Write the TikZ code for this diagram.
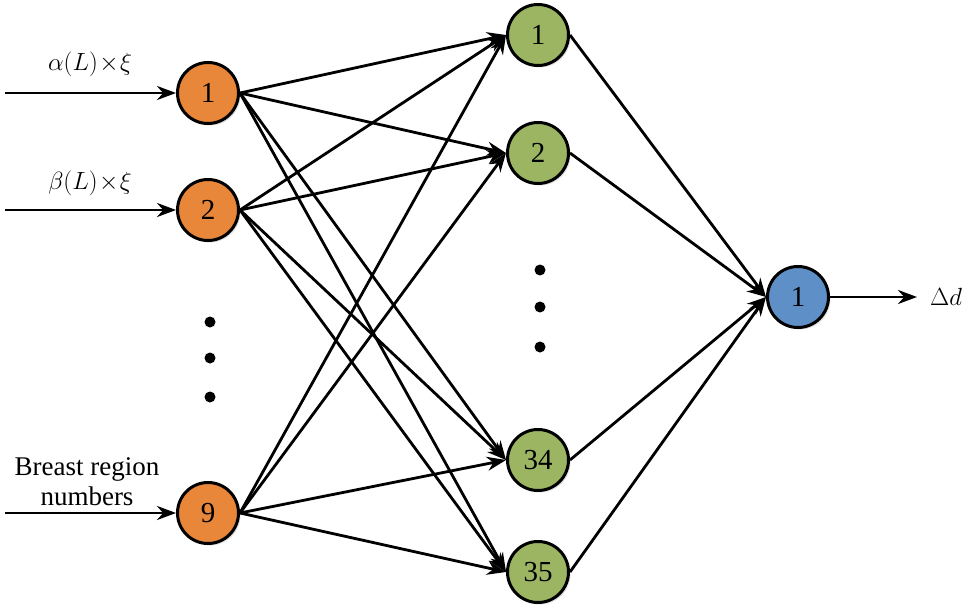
\documentclass[tikz,border=0pt]{standalone}
\usepackage{fontspec}
\setmainfont{Liberation Serif}
\usetikzlibrary{arrows.meta,shadows}
\begin{document}
\begin{tikzpicture}[x=1pt,y=-1pt,
  neuron/.style={circle,draw=black,line width=3pt,minimum size=61pt,inner sep=0pt,font=\fontsize{29}{31}\selectfont,
     drop shadow={opacity=0.25,shadow xshift=2pt,shadow yshift=-2pt}},
  conn/.style={line width=2.8pt,-{Stealth[length=19pt,width=14pt]}},
  lbl/.style={font=\fontsize{27}{30}\selectfont},
  dotc/.style={circle,fill=black,inner sep=0pt,minimum size=11pt}]
\useasboundingbox (0,0) rectangle (970,610);
\definecolor{orgc}{RGB}{232,134,58}
\definecolor{grnc}{RGB}{155,181,99}
\definecolor{bluc}{RGB}{94,143,198}
\node[neuron,fill=orgc] (i1) at (208,93) {1};
\node[neuron,fill=orgc] (i2) at (208,210) {2};
\node[neuron,fill=orgc] (i9) at (208,513) {9};
\node[neuron,fill=grnc] (h1) at (538,35) {1};
\node[neuron,fill=grnc] (h2) at (538,153) {2};
\node[neuron,fill=grnc] (h34) at (538,460) {34};
\node[neuron,fill=grnc] (h35) at (538,572) {35};
\node[neuron,fill=bluc] (o1) at (798,297) {1};
\coordinate (s1) at (5,93);
\coordinate (s2) at (5,210);
\coordinate (s9) at (5,513);
\coordinate (e) at (917,297);
\node[font=\fontsize{27}{29}\selectfont] (l1) at (90,64) {$\alpha(L)\!\times\!\xi$};
\node[font=\fontsize{27}{29}\selectfont] (l2) at (90,183) {$\beta(L)\!\times\!\xi$};
\node[lbl,align=center,inner sep=0pt] (l9) at (87,482) {Breast region\\numbers};
\node[font=\fontsize{32}{34}\selectfont] (dd) at (946,297) {$\Delta d$};
\foreach \y in {322,358,397} \node[dotc] (a\y) at (210,\y) {};
\foreach \y in {270,307,347} \node[dotc] (b\y) at (540,\y) {};
\draw[conn] (s1) -- (i1.west);
\draw[conn] (s2) -- (i2.west);
\draw[conn] (s9) -- (i9.west);
\foreach \i in {i1,i2,i9}
  \foreach \h in {h1,h2,h34,h35}
    \draw[conn] (\i.east) -- (\h.west);
\foreach \h in {h1,h2,h34,h35}
  \draw[conn] (\h.east) -- (o1.west);
\draw[conn] (o1.east) -- (e);
\end{tikzpicture}
\end{document}
